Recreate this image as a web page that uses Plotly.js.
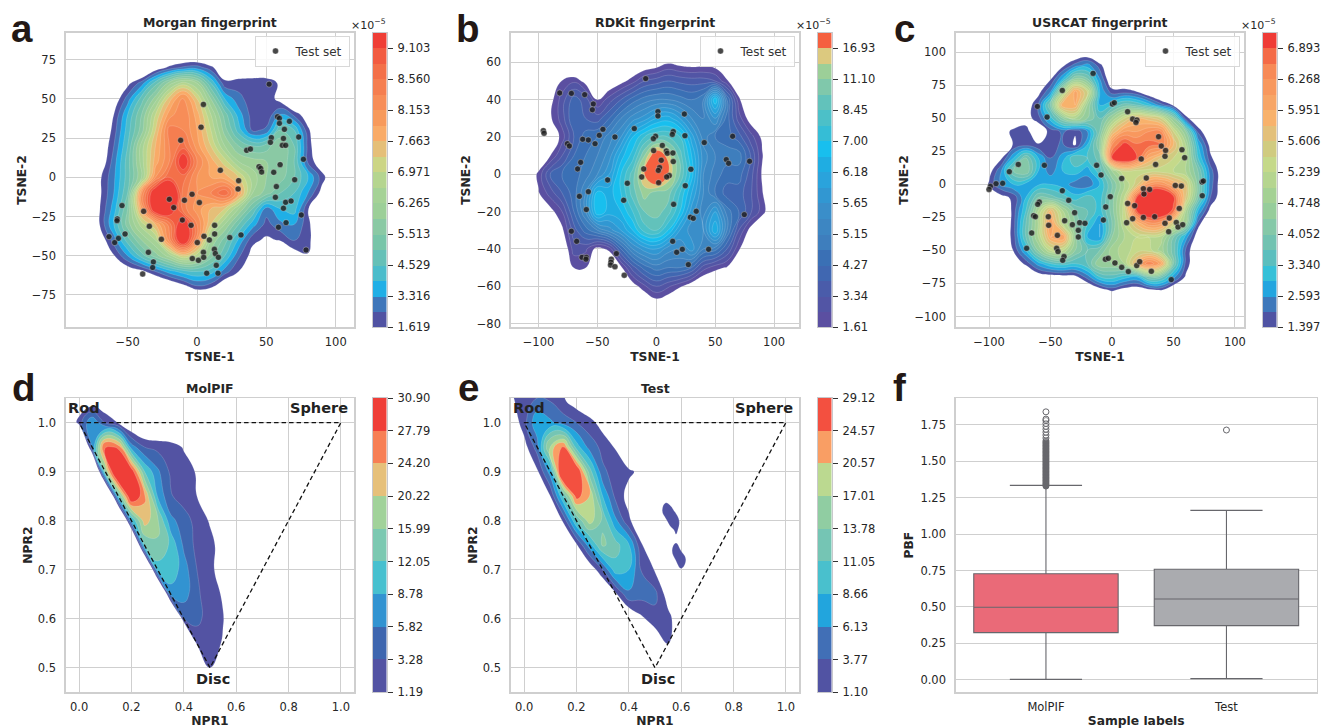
<!DOCTYPE html>
<html><head><meta charset="utf-8">
<script src="https://cdn.plot.ly/plotly-3.0.1.min.js"></script>
<style>html,body{margin:0;padding:0;background:#fff}</style></head>
<body><div id="chart" style="width:1322px;height:728px"></div>
<script>
// ---------- density bands (value = colour-band index, <0 = outside) ----------
const aX=[-80,-70,-60,-50,-40,-30,-20,-10,0,10,20,30,40,50,60,70,80,90,100];
const aY=[80,70,60,50,40,30,20,10,0,-10,-20,-30,-40,-50,-60,-70,-80];
const aZ=[
[-4,-4,-4,-4,-4,-3,-3,-3,-3,-3,-4,-4,-4,-4,-4,-4,-4,-4,-4],
[-4,-4,-4,-4,-3,-1,.3,1.2,1.5,.3,-1.2,-1.5,-1.5,-1.5,-2,-4,-4,-4,-4],
[-4,-4,-3,-.4,1.5,4.5,7.5,9.5,8,4,.3,.6,.7,.7,-.2,-2.5,-4,-4,-4],
[-4,-3,-1,1.5,4.5,7.5,11.5,14.5,11,7,3,1.3,.5,.8,-.5,-3,-4,-4,-4],
[-4,-3,0,3,6,10,13.5,15,12.5,9,5.5,2.5,.5,.3,2,.8,-1,-3,-4],
[-4,-2,.5,3.5,6.5,11,15.5,15,13,10,6.5,3.5,.8,1.2,5,4,.3,-2,-4],
[-3,-1.5,1,4,8.5,12,15,16.5,13.5,11,8,6,5,5.5,7,5,.7,-2,-4],
[-3,-1.2,1.5,4.5,8.5,12.5,15,19.5,15,12.5,10.5,8,7.5,7,7,5,.8,-1,-3],
[-3,-.2,1.8,4.5,8,14,17,16.5,14,13,12.5,11,8.5,7,6.5,5,3,.5,-1.5],
[-3,-.2,2,5,14,20,22,15.5,14,15,17,13,8,6.5,5,4,2,-.5,-2.5],
[-3,0,2.5,6,13,20,19.8,15.5,13.5,12,11,8,5,1.5,3,3.5,.1,-2,-3],
[-3,.1,3,6.5,9.5,12,15.5,19.8,15,11,8,5,2.5,.6,1.7,2,.4,-2,-3],
[-3,-1,1.5,4.5,7,9,14.5,20.5,14,8,5.5,2.8,.3,-.2,.1,1.1,.5,-2,-3],
[-4,-3,-.1,2,4.5,6.5,8.5,11,9.5,6.5,4,1.2,-.5,-2,-2,-.8,-.1,-2,-4],
[-4,-4,-2,-1,-.4,1,2.5,3.5,4,3.5,1.5,0,-2,-3,-3,-3,-3,-4,-4],
[-4,-4,-4,-4,-4,-3,-2,-.7,.7,.2,-1.5,-3,-4,-4,-4,-4,-4,-4,-4],
[-4,-4,-4,-4,-4,-4,-4,-4,-4,-4,-4,-4,-4,-4,-4,-4,-4,-4,-4]];

const bX=[-110,-100,-90,-80,-70,-60,-50,-40,-30,-20,-10,0,10,20,30,40,50,60,70,80,90,100];
const bY=[70,60,50,40,30,20,10,0,-10,-20,-30,-40,-50,-60,-70];
const bZ=[
[-3,-3,-3,-3,-3,-3,-3,-3,-3,-3,-3,-3,-3,-3,-3,-3,-3,-3,-3,-3,-3,-3],
[-3,-3,-3,-3,-3,-3,-3,-3,-3,-2,-1.5,-1,-.2,-.6,-.8,-.7,-.9,-2,-3,-3,-3,-3],
[-3,-3,-2,.1,.8,-.5,-2,-1.5,-.5,.6,2,2.5,3,2.7,2.5,2.5,2,.2,-1.5,-3,-3,-3],
[-3,-3,-.5,1.5,3.5,2.5,0,1.5,3,4.5,5.5,6,6,5.5,5,6,12,5,.3,-2,-3,-3],
[-3,-2,-.2,1.5,4,3,2.5,4,6,7.5,8.5,10,10.5,9,7,6,8,4.5,1.5,-.7,-2,-3],
[-3,-2,-1.5,.5,3,4.5,5,6.5,8,11,13,14,14,13,9.5,6.5,5,4.5,3.5,1.5,-.3,-2],
[-3,-1.5,0,2,4,5,6,7.5,10.5,12.5,16,19.5,17.5,14.5,11,7.5,6,5.5,5.5,3,.1,-2],
[-1.5,.3,3,4,4.5,5.5,7,9,12,14.5,18,21,18,15,11.5,7,5.5,4.5,4.5,2.5,-.2,-2],
[-2,-.1,1.5,3,4.5,7,11.5,10.5,12,14.5,16.5,15.5,15.5,13,10,7,5,3.5,3.5,2.2,.1,-2],
[-3,-2,-.5,1,4,7,12,10.5,11,13,15,15.5,14.5,12,8.5,6.5,9,5.5,4,2.2,.5,-1.5],
[-3,-3,-2,-.3,2.5,4.5,6,7.5,9,11,13.5,14,12,9,7.5,7,11,6,2,-.5,-2,-3],
[-3,-3,-3,-1.5,1.5,1.2,-.5,.3,4,7,8.5,9,7.5,7,8.5,6,5.5,3,.2,-1.5,-3,-3],
[-3,-3,-3,-3,.05,.05,-2,-2,-.3,2.5,4.5,5.5,5,5,4,1.5,.4,-.1,-2,-3,-3,-3],
[-3,-3,-3,-3,-2,-2,-3,-3,-2,-.7,.8,2,1.2,.2,-1,-2,-2,-3,-3,-3,-3,-3],
[-3,-3,-3,-3,-3,-3,-3,-3,-3,-3,-2,-1,-1.5,-2,-3,-3,-3,-3,-3,-3,-3,-3]];

const cX=[-110,-100,-90,-80,-70,-60,-50,-40,-30,-20,-10,0,10,20,30,40,50,60,70,80,90];
const cY=[100,90,80,70,60,50,40,30,20,10,0,-10,-20,-30,-40,-50,-60,-70,-80,-90];
const cZ=[
[-3,-3,-3,-3,-3,-3,-3,-3,-2,-1.5,-3,-3,-3,-3,-3,-3,-3,-3,-3,-3,-3],
[-3,-3,-3,-3,-3,-3,-2,-.3,1.5,2.5,.5,-2,-3,-3,-3,-3,-3,-3,-3,-3,-3],
[-3,-3,-3,-3,-3,-2,-.2,3,7,6,2,-1.5,-2,-3,-3,-3,-3,-3,-3,-3,-3],
[-3,-3,-3,-3,-2,-.5,2,9,14.5,11,3,.5,.6,.1,-1.5,-3,-3,-3,-3,-3,-3],
[-3,-3,-3,-3,-1,1,6,14,14,8,3,4,5.5,5,3.5,1.5,-.2,-2,-3,-3,-3],
[-3,-3,-3,-2,-.5,.5,3.5,7,9,7,5,8,11,13,12.5,11,7,.5,-1.5,-3,-3],
[-3,-3,-1,.5,.4,-1,.4,1.2,.1,2,6,12,15,15,16,16,11,7,.7,-1.5,-3],
[-3,-2,-1,.1,.6,.1,.8,1.1,-.2,3,7,16,18.5,17.2,17.5,17,13,9,3,-.5,-2],
[-3,-2,-.2,3,6,3,1,2.5,5,4,5.5,18.2,20.5,18,14,12,11,9.5,4,.3,-1.5],
[-2.5,-.6,2,6,7,3,1.5,3,3.5,2.5,4.5,8,11,10.5,10.5,10.5,10,9,6,1.5,-1],
[-1.5,.2,2,3,2.5,2.8,3,2.5,1.5,1.2,3,6,9,11.5,15.5,16,14,12,6.5,1.5,-1],
[-2.5,-1.5,-.5,.3,3,6,5.5,4.5,3.5,4.5,3.5,6.5,10,18,21,21.5,18.5,12,6,1,-1],
[-3,-3,-2,.5,4,9,13,9,6,5,3.5,6.5,10.5,18,20.5,20.5,17.5,9,3,-.5,-2],
[-3,-3,-2,.6,5,9,15,10,7,4,2,6,10,13,15.5,15,11,8,.5,-2,-3],
[-3,-3,-1.5,.5,5,9,14,15,7.5,3,2,7,9,10,10,9.5,6,2.5,-1,-3,-3],
[-3,-3,-2,.1,3,7,10,10,7,5,6,8.5,9.5,10.5,10.5,8.5,5.5,.8,-1.5,-3,-3],
[-3,-3,-3,-1,.3,2.5,4,4.5,4,5,8,8,9,13.5,17,14.5,6,.7,-1.5,-3,-3],
[-3,-3,-3,-3,-2,-1,-.7,-.5,-.4,1.5,4,4.5,3.5,3,6,5.5,2.5,-.2,-2,-3,-3],
[-3,-3,-3,-3,-3,-3,-3,-3,-3,-2,-.7,.3,-.6,-1,-.4,.1,-1.5,-2,-3,-3,-3],
[-3,-3,-3,-3,-3,-3,-3,-3,-3,-3,-3,-3,-3,-3,-3,-3,-3,-3,-3,-3,-3]];

const dX=[-.05,0,.05,.1,.15,.2,.25,.3,.35,.4,.45,.5,.55,.6,.65];
const dY=[1.05,1,.95,.9,.85,.8,.75,.7,.65,.6,.55,.5,.45];
const dZ=[
[-2,-1.5,-1.5,-1.5,-2,-2,-2,-2,-2,-2,-2,-2,-2,-2,-2],
[-2,.5,3,.9,-.1,-1.5,-2,-2,-2,-2,-2,-2,-2,-2,-2],
[-6,-6,2,8.5,7.7,2.5,1,.7,.5,-.1,-2,-3,-3,-3,-3],
[-6,-6,-6,5,11,8.8,4,2.2,.8,.5,-.1,-2,-3,-3,-3],
[-6,-6,-6,-6,4,9.5,7.2,2.9,1.1,.5,0,-1,-3,-3,-3],
[-6,-6,-6,-6,-6,3,6.5,5.2,2.3,1.5,.6,-.1,-2,-3,-3],
[-6,-6,-6,-6,-6,-6,4,4.9,3.8,1.8,.7,.3,-.5,-3,-3],
[-6,-6,-6,-6,-6,-6,-6,3.5,3.7,2.5,1,.3,-.6,-3,-3],
[-6,-6,-6,-6,-6,-6,-6,-6,2.5,2.5,1.2,.4,-.1,-2,-3],
[-6,-6,-6,-6,-6,-6,-6,-6,-6,1,1.3,.5,.05,-1,-3],
[-6,-6,-6,-6,-6,-6,-6,-6,-6,-6,.3,.5,-.1,-1.5,-3],
[-6,-6,-6,-6,-6,-6,-6,-6,-6,-6,-4,.05,-1.5,-3,-3],
[-2,-2,-2,-2,-2,-2,-2,-2,-2,-2,-2,-2,-2,-2,-2]];

const eX=[-.1,-.05,0,.05,.1,.15,.2,.25,.3,.35,.4,.45,.5,.55,.6,.65];
const eY=[1.1,1.05,1,.95,.9,.85,.8,.75,.7,.65,.6,.55,.5];
const eZ=[
[-.5,.5,.8,.9,.8,.4,-.3,-1,-2,-2,-2,-2,-2,-2,-2,-2],
[-1,-.2,.7,1,.8,.1,-.8,-1.5,-2,-2,-2,-2,-2,-2,-2,-2],
[-2,-1,.6,2.8,2.2,1.5,1,.4,-.5,-2,-2,-2,-2,-2,-2,-2],
[-3,-2,-.5,1.5,6.5,8.2,3.5,1.6,.7,-.1,-1.5,-2,-3,-3,-3,-3],
[-3,-3,-2,-.2,2.5,11,9.5,4.5,1.2,.6,.2,-.3,-2,-3,-3,-3],
[-3,-3,-3,-2,0,4,8.5,7,3,.7,-.4,-.8,-2,-3,-3,-3],
[-3,-3,-3,-3,-2,.2,4,6.5,4.8,2.2,.2,-1,-2,-3,-3,-3],
[-3,-3,-3,-3,-3,-2,-.2,2.5,5.2,4.4,3.1,.05,-.7,-2,-3,-3],
[-3,-3,-3,-3,-3,-3,-3,-1,1,3.6,3,.9,-.1,-1.5,-3,-3],
[-3,-3,-3,-3,-3,-3,-3,-3,-2,-.2,1.8,1.4,1.3,-.6,-2,-3],
[-3,-3,-3,-3,-3,-3,-3,-3,-3,-3,-1.5,-.2,.6,.4,-1,-2],
[-3,-3,-3,-3,-3,-3,-3,-3,-3,-3,-3,-2,-1,.05,-1,-2],
[-2,-2,-2,-2,-2,-2,-2,-2,-2,-2,-2,-2,-2,-2,-2,-2]];
// the two detached islands of panel e
const e2X=[.52,.54,.56,.58,.6,.62,.64];
const e2Y=[.84,.82,.8,.78,.76,.74,.72,.7,.68];
const e2Z=[
[-.5,-.2,-.5,-1,-1,-1,-1],
[-.5,.8,.5,-.3,-1,-1,-1],
[-1,-.3,.7,.8,-.5,-1,-1],
[-1,-1,-.4,.2,-.4,-1,-1],
[-1,-1,-.5,-.3,-.6,-1,-1],
[-1,-1,-.3,.8,-.1,-1,-1],
[-1,-1,-1,.1,.8,-.1,-1],
[-1,-1,-1,-1,-.1,-.3,-1],
[-1,-1,-1,-1,-1,-1,-1]];

// ---------- band colours (bottom to top) and colour-bar tick labels ----------
const aColors=['#5052a2','#3f76ba','#20afe6','#4bbccb','#65c0b7','#78c5a9','#8ac9a4','#9ccf98','#a5d296','#b5d58f','#ccd585','#e5bf78','#f9ab68','#f79a5c','#f78d58','#f57e50','#f37049','#f25b41','#ef3e36'];
const bColors=['#5b4fa1','#5255a5','#4a5caa','#4067b1','#3a70b5','#3e7ebd','#3d86c2','#3a8ec9','#3197d2','#2aa3dc','#1fade2','#18bfee','#35bdd6','#4cc0c8','#62c2bb','#80c8ab','#9ccf98','#dcc97f','#f5603f'];
const cColors=['#4f53a3','#3e78bb','#23a5df','#35c0d8','#5bbebe','#72c2b1','#85c8a8','#96cd9b','#a4d194','#b5d58f','#c5d98a','#d0cb80','#e3c07a','#f8b26c','#f7a566','#f8985e','#f78a57','#f46a47','#ef3b36'];
const dColors=['#5353a3','#3e66af','#3293d1','#47c0cf','#7cc8b1','#a1d29a','#e6c07a','#f77f55','#ef3e38'];
const eColors=['#5153a3','#416fb6','#22a5dd','#49c0cd','#75c5b4','#90cda2','#bbd990','#f99e64','#f35040'];
const aTicks=['1.619','3.316','4.529','5.513','6.265','6.971','7.663','8.153','8.560','9.103'];
const bTicks=['1.61','3.34','4.27','5.15','5.65','6.18','7.00','8.45','11.10','16.93'];
const cTicks=['1.397','2.593','3.340','4.052','4.748','5.239','5.606','5.951','6.268','6.893'];
const dTicks=['1.19','3.28','5.82','8.78','12.05','15.99','20.22','24.20','27.79','30.90'];
const eTicks=['1.10','3.77','6.13','8.66','11.05','13.78','17.01','20.57','24.57','29.12'];

// ---------- test-set points ----------
const aPx=[52,4.6,2.9,-11.8,58,59.4,59.4,66.6,63,73.3,53.6,52.9,62.3,61.5,63.9,35.8,38.5,76.7,44.7,45.9,46.6,55.3,59.9,16.8,70.4,30,29.6,57.2,56.5,63.9,67.8,62.3,75.2,64.2,58.7,78.6,-3.6,-9.1,1.7,-20,-16.8,-38.5,-54.1,-57.5,-57.7,-10.6,-4.3,12.7,-34.4,-51.9,-63.5,-56.7,-59.4,-25.7,5,8.9,12.7,23.6,31.7,.2,-35.1,4.6,12.5,13.2,15.4,-3.4,1,4.8,13.9,-31.5,-32,-39.2,7,15.1];
const aPy=[59.4,46.5,32,23.6,38.6,37.6,34.4,35.7,30.6,25.7,25.3,22.3,24.8,20.4,20.4,17.2,18,11.5,6.8,5.7,3.4,3.2,8.1,4.5,-1.5,-2.1,-7.4,-5.9,-12.7,-15.9,-15.1,-19.7,-24,-28.9,-31.8,-46.3,-10.8,-14.6,-16.1,-14,-19.3,-21.7,-18,-26.5,-27.6,-27.2,-30.6,-30.6,-31.2,-36.1,-37.8,-38.9,-41.6,-39.5,-37.6,-39.9,-36.1,-38.4,-36.7,-41.6,-47.8,-47.8,-45.9,-48.6,-51,-51.8,-52.9,-51,-56.1,-53.9,-57.5,-61.6,-61.1,-61.1];
const bPx=[-9,-82,-72.1,-60.8,-53.5,-54.3,-95.9,-95.3,-45.3,-48.4,-18.7,-35.1,-57.7,-62.5,-52,-75.5,-73.8,1.4,1.4,23.8,14.4,13.6,24.3,-.6,-2.5,5.1,-2.3,8.5,9.3,14.1,4.2,14.4,40.7,64.8,59.4,61.4,79.2,-64.2,-66.8,-10.7,2.8,1.7,29.4,-12.4,11,8.8,2,-41.3,-24.6,24.6,-57.7,-65.3,-27.7,14.7,-59.4,33.9,28.9,31.4,74.7,-72.1,-67.6,13.9,22.1,17.3,44.4,27.2,-33.9,-63.1,-59.4,-59.7,-38.2,-38.5,-38.8,-35.1,-27.2];
const bPy=[51.3,43.6,43.4,42.7,37.7,34.6,23.4,22,24.1,20.9,24.5,20,18.4,18.8,16.4,16.4,15.2,33.6,31.3,32.3,22.9,21.4,20.7,20.4,19.1,15.5,12.7,12.5,11.3,11.4,7.5,6.8,17,20.4,7.9,5.9,7,6.4,2.9,2.9,3.6,2.1,2.7,-1.4,-.7,-1.4,-4.5,-3,-4.8,-6.1,-9.3,-11.8,-13.9,-16.1,-18.9,-19.8,-23,-23.6,-21.6,-30.5,-35.9,-35.9,-40.2,-41.8,-40.2,-48.4,-42.5,-44.5,-44.5,-45.5,-45.5,-47.1,-48.6,-49.5,-54.1];
const cPx=[-15.4,-40.4,-60.7,-52.8,.3,1.9,12.7,16.8,20.3,19.5,37.9,40.1,43.6,43.1,56.9,59.1,23.8,35.5,-12.5,-8.9,7.9,27.9,-76.2,-83.5,-55,-88.9,-94.3,-98.9,-100,73.2,74.3,73.4,51.5,56.4,25.5,30.6,26,-1.4,-40.4,-35.2,-59.1,-60.4,12.7,18.4,-5.1,54.7,-63.7,-62.3,-51.8,-30.4,-38.5,-51.5,-32.2,-26.3,-22,-7,16.8,11.9,25.5,34.7,46.6,43.1,52.3,53.7,57.5,46.1,-65.3,-27.4,-27.4,-44.4,-69.4,-45,-43.9,-39,-40.1,-5.4,-3,2.4,7.9,20.1,22.5,13.3,32,48.2];
const cPy=[84,71.1,59,50.9,60.8,61.8,55,49.4,48.7,46.9,36.1,29,25.7,21.2,26.2,20.2,19.2,15.1,14.4,7.1,4.5,4.8,15.1,9.6,14.4,.8,.5,-1.5,-3.8,1.8,2.5,-8.6,-.8,-1.3,-3.3,-3.8,-7.3,-9.3,-4.8,-12.1,-13.4,-15.1,-14.4,-16.1,-17.1,-18.2,-23.7,-24.5,-24.5,-21.4,-27.5,-31,-30.5,-29,-29.5,-27,-26,-29,-25,-24.5,-25.5,-29.5,-28.8,-32.3,-30.5,-35.8,-36.8,-34.8,-39.8,-38.6,-48.4,-48.4,-50.9,-54.7,-57.5,-56.7,-56,-59.5,-62.8,-61.5,-58.5,-66,-65.8,-72.1];

// ---------- moment-of-inertia triangle ----------
const triX=[0,1,.5,0];
const triY=[1,1,.5,1];

// ---------- PBF boxes ----------
const boxLabels=['MolPIF','Test'];
const boxQ1=[.323,.371];
const boxMed=[.497,.554];
const boxQ3=[.728,.758];
const boxLow=[.002,.007];
const boxHigh=[1.335,1.163];
const molpifDense=[1.33,1.34,1.35,1.36,1.37,1.38,1.39,1.40,1.41,1.42,1.43,1.44,1.45,1.46,1.47,1.48,1.49,1.50,1.51,1.52,1.53,1.54,1.55,1.56,1.57,1.58,1.59,1.60,1.61,1.62,1.63,1.64];
const molpifOut=[1.66,1.68,1.70,1.72,1.74,1.76,1.78,1.79,1.84];
const testOut=[1.715];

// ---------- layout helpers ----------
const W=1322,H=728;
const font='"DejaVu Sans",sans-serif', ink='#262626', gridc='#cfcfcf';
const dx=(a,b)=>[a/W,b/W];
const dy=(t,b)=>[1-b/H,1-t/H];
const panels=[
 {x:[65.7,354.3],y:[32.7,327.3],rx:[-94.7,113.4],ry:[-95.6,92.2],tx:[-50,0,50,100],ty:[-75,-50,-25,0,25,50,75],xt:'TSNE-1',yt:'TSNE-2',xs:5,ys:2,cb:[372.7,386.7]},
 {x:[510.7,799.3],y:[32.7,327.3],rx:[-123.6,121.4],ry:[-82,75.9],tx:[-100,-50,0,50,100],ty:[-80,-60,-40,-20,0,20,40,60],xt:'TSNE-1',yt:'TSNE-2',xs:5,ys:3,cb:[817.7,831.7]},
 {x:[955.7,1244.3],y:[32.7,327.3],rx:[-127.1,107.6],ry:[-108.2,114.8],tx:[-100,-50,0,50,100],ty:[-100,-75,-50,-25,0,25,50,75,100],xt:'TSNE-1',yt:'TSNE-2',xs:5,ys:3,cb:[1262.7,1276.7]},
 {x:[65.7,354.3],y:[398,692.3],rx:[-.051,1.051],ry:[.45,1.05],tx:[0,.2,.4,.6,.8,1],ty:[.5,.6,.7,.8,.9,1],xt:'NPR1',yt:'NPR2',xs:7,ys:2,cb:[372.7,386.7],fx:'.1f',fy:'.1f'},
 {x:[510.7,799.3],y:[398,692.3],rx:[-.051,1.051],ry:[.45,1.05],tx:[0,.2,.4,.6,.8,1],ty:[.5,.6,.7,.8,.9,1],xt:'NPR1',yt:'NPR2',xs:7,ys:2,cb:[817.7,831.7],fx:'.1f',fy:'.1f'},
 {x:[955.7,1316.7],y:[398,692.3],ry:[-.087,1.935],ty:[0,.25,.5,.75,1,1.25,1.5,1.75],xt:'Sample labels',yt:'PBF',xs:10,ys:4,fy:'.2f'}
];
const tickFont={family:font,size:11.5,color:ink};
const titleFont={family:font,size:12.3,color:ink,weight:700};
const layout={width:W,height:H,margin:{l:0,r:0,t:0,b:0},paper_bgcolor:'#fff',plot_bgcolor:'#fff',showlegend:true,boxmode:'overlay',annotations:[],
  font:{family:font,color:ink}};
panels.forEach((p,i)=>{
  const n=i===0?'':String(i+1);
  const xa={domain:dx(...p.x),anchor:'y'+n,showgrid:true,gridcolor:gridc,gridwidth:1,zeroline:false,showline:true,linecolor:gridc,linewidth:1.4,mirror:true,ticks:'',tickfont:tickFont,ticklabelstandoff:3,
    title:{text:p.xt,font:titleFont,standoff:p.xs}};
  if(p.rx){xa.range=p.rx;xa.tickmode='array';xa.tickvals=p.tx;if(p.fx)xa.tickformat=p.fx;}
  else {xa.type='category';xa.range=[-.5,1.5];xa.categoryorder='array';xa.categoryarray=boxLabels;xa.showgrid=false;}
  const ya={domain:dy(...p.y),anchor:'x'+n,range:p.ry,tickmode:'array',tickvals:p.ty,showgrid:true,gridcolor:gridc,gridwidth:1,zeroline:false,showline:true,linecolor:gridc,linewidth:1.4,mirror:true,ticks:'',tickfont:tickFont,ticklabelstandoff:6,
    title:{text:p.yt,font:titleFont,standoff:p.ys}};
  if(p.fy)ya.tickformat=p.fy;
  layout['xaxis'+n]=xa; layout['yaxis'+n]=ya;
});
// colour-bar axes
const bars=[[aColors,aTicks,0],[bColors,bTicks,1],[cColors,cTicks,2],[dColors,dTicks,3],[eColors,eTicks,4]];
bars.forEach(([cols,tk,i])=>{
  const n=i+7, p=panels[i], st=cols.length>9?2:1;
  layout['xaxis'+n]={domain:dx(...p.cb),anchor:'y'+n,range:[0,1],showgrid:false,zeroline:false,showticklabels:false,ticks:'',showline:true,linecolor:'#c8c8cc',linewidth:1,mirror:true};
  layout['yaxis'+n]={domain:dy(...p.y),anchor:'x'+n,side:'right',range:[0,cols.length],showgrid:false,zeroline:false,showline:true,linecolor:'#c8c8cc',linewidth:1,mirror:true,ticks:'outside',ticklen:5.5,tickcolor:'#333',tickwidth:1,tickmode:'array',ticklabelstandoff:2,
    tickvals:tk.map((_,k)=>k*st),ticktext:tk,tickfont:tickFont};
});

function contour(x,y,z,cols,n,line){
  const nb=cols.length, scale=[[0,'rgba(0,0,0,0)']];
  cols.forEach((c,k)=>scale.push([(k+1)/nb,c]));
  return {type:'contour',x:x,y:y.slice().reverse(),z:z.slice().reverse(),xaxis:'x'+n,yaxis:'y'+n,showscale:false,hoverinfo:'skip',showlegend:false,
    autocontour:false,contours:{coloring:'fill',start:0,end:nb-1,size:1,showlines:true},colorscale:scale,line:{color:line,width:.6,smoothing:1.3}};
}
function dots(x,y,n,leg){
  return {type:'scatter',mode:'markers',x,y,xaxis:'x'+n,yaxis:'y'+n,name:'Test set',legend:leg,showlegend:true,hoverinfo:'skip',
    marker:{size:6,color:'rgba(30,30,30,.82)',line:{color:'rgba(255,255,255,.6)',width:.5}}};
}
function bar(cols,n){
  return {type:'heatmap',x:[.5],y:cols.map((_,k)=>k+.5),z:cols.map((_,k)=>[k]),xaxis:'x'+n,yaxis:'y'+n,showscale:false,hoverinfo:'skip',showlegend:false,
    zmin:0,zmax:cols.length-1,colorscale:cols.map((c,k)=>[k/(cols.length-1),c]),xgap:0,ygap:0};
}
function tri(n){
  return {type:'scatter',mode:'lines',x:triX,y:triY,xaxis:'x'+n,yaxis:'y'+n,showlegend:false,hoverinfo:'skip',line:{color:'#111',width:1.3,dash:'4.5px,3px'}};
}
function box(i,color){
  return {type:'box',x:[boxLabels[i]],q1:[boxQ1[i]],median:[boxMed[i]],q3:[boxQ3[i]],lowerfence:[boxLow[i]],upperfence:[boxHigh[i]],width:.8,whiskerwidth:.5,boxpoints:false,
    fillcolor:color,line:{color:'#67676c',width:1.1},xaxis:'x6',yaxis:'y6',showlegend:false,hoverinfo:'skip'};
}
function fliers(label,vals,fill){
  return {type:'scatter',mode:'markers',x:vals.map(()=>label),y:vals,xaxis:'x6',yaxis:'y6',showlegend:false,hoverinfo:'skip',marker:{size:6,color:fill,line:{color:'#67676c',width:1}}};
}
const faint='rgba(255,255,255,.28)';
const data=[
  contour(aX,aY,aZ,aColors,'',faint),dots(aPx,aPy,'','legend'),
  contour(bX,bY,bZ,bColors,'2',faint),dots(bPx,bPy,'2','legend2'),
  contour(cX,cY,cZ,cColors,'3',faint),dots(cPx,cPy,'3','legend3'),
  contour(dX,dY,dZ,dColors,'4',faint),tri('4'),
  contour(eX,eY,eZ,eColors,'5',faint),contour(e2X,e2Y,e2Z,eColors,'5',faint),tri('5'),
  box(0,'#ea6a78'),box(1,'#aaabaf'),fliers('MolPIF',molpifDense,'#67676c'),fliers('MolPIF',molpifOut,'rgba(255,255,255,.25)'),fliers('Test',testOut,'rgba(255,255,255,0)'),
  bar(aColors,'7'),bar(bColors,'8'),bar(cColors,'9'),bar(dColors,'10'),bar(eColors,'11')
];
// legends
[['legend',254.5],['legend2',699.5],['legend3',1144.5]].forEach(([k,px])=>{
  layout[k]={x:px/W,y:1-35.5/H,xanchor:'left',yanchor:'top',bgcolor:'rgba(255,255,255,.85)',bordercolor:'#d8d8d8',borderwidth:1,font:{family:font,size:12,color:'#333'},itemwidth:30};
});
// annotations
const ann=(o)=>layout.annotations.push(Object.assign({showarrow:false,xref:'paper',yref:'paper'},o));
const px=(x,y)=>({x:x/W,y:1-y/H});
[['Morgan fingerprint',210,22.5],['RDKit fingerprint',655,22.5],['USRCAT fingerprint',1100,22.5],['MolPIF',210,388],['Test',655,388]].forEach(([t,x,y])=>{
  ann(Object.assign(px(x,y),{text:t,font:Object.assign({},titleFont,{size:12.5}),xanchor:'center',yanchor:'middle'}));
});
[368.5,813.5,1258.5].forEach(x=>ann(Object.assign(px(x,25),{text:'×10<sup>−5</sup>',font:{family:font,size:11,color:ink},xanchor:'center',yanchor:'middle'})));
[['a',9,29],['b',454,29],['c',892,29],['d',10,387],['e',456,387],['f',891,387]].forEach(([t,x,y])=>{
  ann(Object.assign(px(x,y),{text:t,font:{family:'"Liberation Sans",Arial,sans-serif',size:38.5,weight:700,color:'#231815'},xanchor:'left',yanchor:'middle'}));
});
[['4'],['5']].forEach(([n])=>{
  [['Rod',.02,1.03],['Sphere',.917,1.03],['Disc',.51,.478]].forEach(([t,x,y])=>{
    layout.annotations.push({text:t,x,y,xref:'x'+n,yref:'y'+n,showarrow:false,xanchor:'center',yanchor:'middle',font:{family:font,size:14.5,weight:700,color:'#222'}});
  });
});
Plotly.newPlot('chart',data,layout,{displayModeBar:false,staticPlot:true}).then(()=>{
  // drop the empty text nodes Plotly leaves behind (legend titles and the like)
  document.querySelectorAll('#chart text').forEach(t=>{ if(!t.textContent.trim()) t.remove(); });
});
</script></body></html>
